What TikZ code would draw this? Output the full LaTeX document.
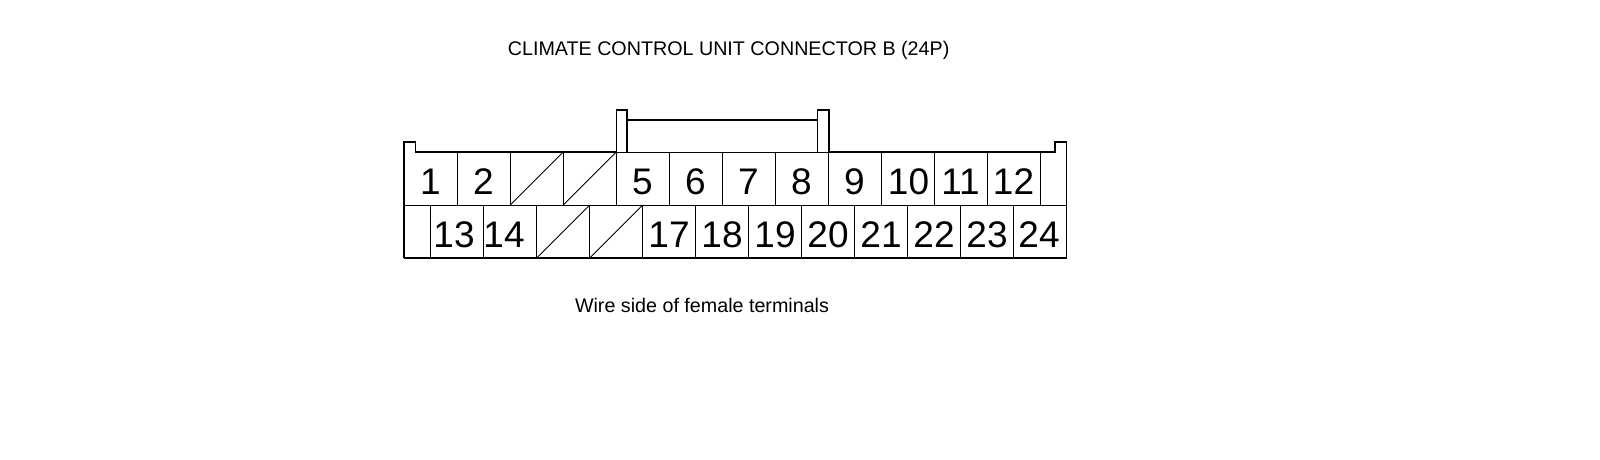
\documentclass[tikz,border=0pt]{standalone}
\usepackage{fontspec}
\setmainfont{Liberation Sans}
\tikzset{
	pin/.style={draw,line width=0.9pt,inner sep=0,outer sep=0,minimum width=53pt,minimum height=53pt,text height=31.4pt,text depth=0pt,font=\fontsize{37}{37}\selectfont},
	edgecell/.style={draw,line width=0.9pt,inner sep=0,outer sep=0,minimum width=26.3pt,minimum height=53pt},
	shell/.style={line width=1.6pt,line join=miter},
	void/.style={line width=0.9pt},
	caption/.style={inner sep=0,font=\fontsize{19.7}{24}\selectfont}
}
\begin{document}
\begin{tikzpicture}[x=1pt,y=-1pt]
	\useasboundingbox (0,0) rectangle (1600,460);
	% upper row
	\node[pin] (1) at (430.5,178.7) {1};
	\node[pin] (2) at (483.5,178.7) {2};
	\node[pin] (3) at (536.5,178.7) {};
	\node[pin] (4) at (589.5,178.7) {};
	\node[pin] (5) at (642.5,178.7) {5};
	\node[pin] (6) at (695.5,178.7) {6};
	\node[pin] (7) at (748.5,178.7) {7};
	\node[pin] (8) at (801.5,178.7) {8};
	\node[pin] (9) at (854.5,178.7) {9};
	\node[pin] (10) at (907.5,178.7) {\kern2pt 10};
	\node[pin] (11) at (960.5,178.7) {11};
	\node[pin] (12) at (1013.5,178.7) {12};
	\node[edgecell] (endtop) at (1053.2,178.7) {};
	% lower row
	\node[edgecell] (endlow) at (417.2,231.7) {};
	\node[pin] (13) at (457,231.7) {13\kern6pt};
	\node[pin] (14) at (510,231.7) {14\kern12pt};
	\node[pin] (15) at (563,231.7) {};
	\node[pin] (16) at (616,231.7) {};
	\node[pin] (17) at (669,231.7) {17};
	\node[pin] (18) at (722,231.7) {18};
	\node[pin] (19) at (775,231.7) {19};
	\node[pin] (20) at (828,231.7) {20};
	\node[pin] (21) at (881,231.7) {21};
	\node[pin] (22) at (934,231.7) {22};
	\node[pin] (23) at (987,231.7) {23};
	\node[pin] (24) at (1040,231.7) {24\kern2pt};
	% unused cavities
	\draw[void] (3.south west) -- (3.north east);
	\draw[void] (4.south west) -- (4.north east);
	\draw[void] (15.south west) -- (15.north east);
	\draw[void] (16.south west) -- (16.north east);
	% housing
	\draw[white,line width=2pt] (405,152.2) -- (415,152.2);
	\draw[white,line width=2pt] (1055.5,152.2) -- (1065.5,152.2);
	\draw[shell] (404,258.2) -- (404,142) -- (415.5,142) -- (415.5,152.2) -- (616.3,152.2) -- (616.3,110) -- (627,110) -- (627,152.2);
	\draw[shell] (627,120) -- (817.3,120);
	\draw[shell] (817.3,152.2) -- (817.3,110) -- (828.7,110) -- (828.7,152.2) -- (1055,152.2) -- (1055,142) -- (1066.5,142) -- (1066.5,258.2) -- (404,258.2);
	\node[caption] (title) at (728.6,50) {CLIMATE CONTROL UNIT CONNECTOR B (24P)};
	\node[caption] (side) at (702,305) {Wire side of female terminals};
\end{tikzpicture}
\end{document}
